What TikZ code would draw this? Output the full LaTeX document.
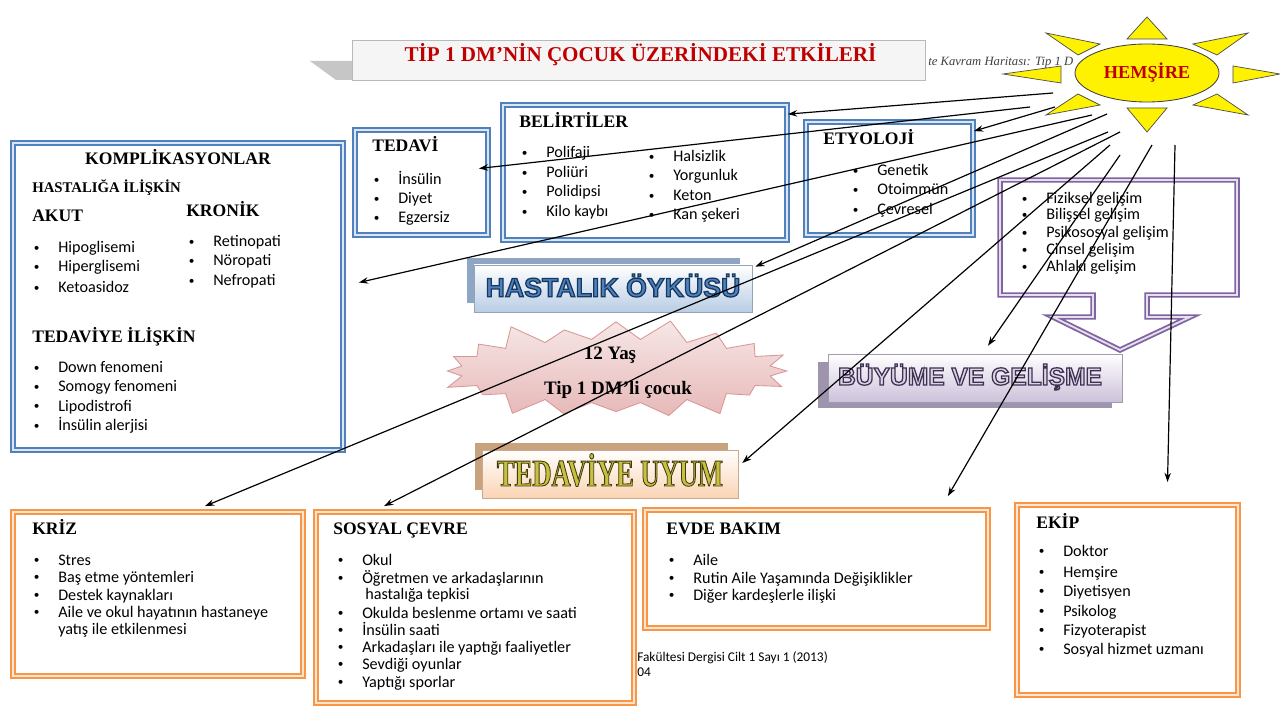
\documentclass[tikz,border=0pt]{standalone}
\usepackage{fontspec}
\setmainfont{Liberation Serif}
\newfontfamily\calfont{Carlito}
\newfontfamily\artsans{Liberation Sans}
\newfontfamily\artserif[FakeStretch=0.7]{Liberation Serif}
\usetikzlibrary{arrows.meta,positioning,calc,fit,shapes.geometric,shapes.symbols}

\definecolor{boxblue}{HTML}{4F81BD}
\definecolor{boxorange}{HTML}{F79646}
\definecolor{boxpurple}{HTML}{8064A2}
\definecolor{titlered}{HTML}{C00000}
\definecolor{starpink}{HTML}{E6B9B8}
\definecolor{starline}{HTML}{D99694}
\definecolor{hastblue}{HTML}{B9CDE5}
\definecolor{hastback}{HTML}{8EA5C4}
\definecolor{buyback}{HTML}{9E94AE}
\definecolor{buylav}{HTML}{CCC1DA}
\definecolor{uyumback}{HTML}{C9A27E}
\definecolor{uyumpeach}{HTML}{FBD4B4}
\definecolor{uyumtext}{HTML}{C8C040}

% outlined (WordArt-like) text: fill colour, stroke width, stroke rgb, text
\newcommand{\outl}[4]{{\color{#1}\special{pdf:literal direct 2 Tr #2 w #3 RG}#4\special{pdf:literal direct 0 Tr}}}
\newcommand{\dotmark}{\raisebox{0.12em}{\fontsize{8}{8}\selectfont\textbullet}}

\tikzstyle{bluebox}=[draw=boxblue, line width=1.3pt, double=boxblue!20, double distance=1.3pt, fill=white, inner sep=0pt]
\tikzstyle{orangebox}=[draw=boxorange, line width=1.3pt, double=boxorange!25, double distance=1.3pt, fill=white, inner sep=0pt]
\tikzstyle{purplebox}=[draw=boxpurple, line width=1.3pt, double=boxpurple!20, double distance=1.3pt, fill=white]
\tikzstyle{ray}=[fill=yellow, draw=black!70, line width=0.5pt]

\begin{document}
\begin{tikzpicture}[x=0.025cm, y=-0.025cm,
  >={Stealth[length=2.3mm,width=1.6mm]},
  head/.style={anchor=base west, inner sep=0pt, font=\bfseries\fontsize{12.5}{14}\selectfont},
  itm/.style={anchor=base west, inner sep=0pt, font=\calfont\fontsize{11.5}{13}\selectfont,
              execute at begin node={\llap{\dotmark\hspace{0.47cm}}}},
  itmc/.style={anchor=base west, inner sep=0pt, font=\calfont\fontsize{11.5}{13}\selectfont},
  arr/.style={->, line width=0.85pt}]
\fill[white] (0,0) rectangle (1280,720);
\useasboundingbox (0,0) rectangle (1280,720);

% title banner
\fill[gray!45] (310,61) -- (352,61) -- (352,80) -- (336,80) -- cycle;
\node[fit={(352,40)(925,80)}, inner sep=0pt, fill=gray!8, draw=gray!55] (tit) {};
\node[font=\bfseries\fontsize{15}{15}\selectfont, text=titlered] (titT) at ($(tit.center)+(2,-5)$)
  {TİP 1 DM’NİN ÇOCUK ÜZERİNDEKİ ETKİLERİ};

% sun
\foreach \p/\q/\r in {{(1127,39)}/{(1147,17)}/{(1167,39)}, {(1127,108)}/{(1147,132)}/{(1167,108)},
    {(1061,66)}/{(1003,74)}/{(1061,83)}, {(1233,66)}/{(1280,74)}/{(1233,83)},
    {(1046,33)}/{(1100,44)}/{(1078,55)}, {(1248,33)}/{(1193,44)}/{(1217,55)},
    {(1046,115)}/{(1078,94)}/{(1100,105)}, {(1248,115)}/{(1217,94)}/{(1193,105)}}
  \filldraw[ray] \p -- \q -- \r -- cycle;
\node[anchor=base west, inner sep=0pt, font=\itshape\fontsize{9}{10}\selectfont, text=black!75] (kav)
  at (928,66) {te Kavram Haritası: Tip 1 D};
\node[ellipse, draw=black!75, fill=yellow, line width=0.6pt, minimum width=3.6cm, minimum height=1.45cm,
  inner sep=0pt, font=\bfseries\fontsize{13}{13}\selectfont, text=titlered] (sun) at (1147,73) {HEMŞİRE};

% blue boxes
\node[bluebox, fit={(13,143)(343,450)}] (komp) {};
\node[bluebox, fit={(355,130)(488,235)}] (ted) {};
\node[bluebox, fit={(503,105)(787,240)}] (bel) {};
\node[bluebox, fit={(806,122)(973,235)}] (ety) {};

\node[head, anchor=base] (kompT) at (178,165) {KOMPLİKASYONLAR};
\node[head, font=\bfseries\fontsize{10.5}{12}\selectfont] (kompH) at (32,193) {HASTALIĞA İLİŞKİN};
\node[head] (kompA) at (32,222) {AKUT};
\node[head] (kompK) at (186,217) {KRONİK};
\foreach \t/\y [count=\i] in {Hipoglisemi/253, Hiperglisemi/272, Ketoasidoz/293}
  \node[itm] (akut\i) at (58,\y) {\t};
\foreach \t/\y [count=\i] in {Retinopati/247, Nöropati/266, Nefropati/286}
  \node[itm] (kron\i) at (213,\y) {\t};
\node[head] (kompD) at (32,343) {TEDAVİYE İLİŞKİN};
\foreach \t/\y [count=\i] in {Down fenomeni/373, Somogy fenomeni/392, Lipodistrofi/411, İnsülin alerjisi/431}
  \node[itm] (tdv\i) at (58,\y) {\t};

\node[head] (tedT) at (372,152) {TEDAVİ};
\foreach \t/\y [count=\i] in {İnsülin/185, Diyet/204, Egzersiz/223}
  \node[itm] (ted\i) at (398,\y) {\t};

\node[head] (belT) at (519,128) {BELİRTİLER};
\foreach \t/\y [count=\i] in {Polifaji/158, Poliüri/178, Polidipsi/197, Kilo kaybı/217}
  \node[itm] (belA\i) at (546,\y) {\t};
\foreach \t/\y [count=\i] in {Halsizlik/162, Yorgunluk/181, Keton/201, Kan şekeri/220}
  \node[itm] (belB\i) at (673,\y) {\t};

\node[head] (etyT) at (823,145) {ETYOLOJİ};
\foreach \t/\y [count=\i] in {Genetik/176, Otoimmün/195, Çevresel/215}
  \node[itm] (ety\i) at (877,\y) {\t};

% growth callout
\draw[purplebox] (1000,180) -- (1237,180) -- (1237,295) -- (1147,295) -- (1147,317) -- (1190,317)
  -- (1120,350) -- (1053,317) -- (1093,317) -- (1093,295) -- (1000,295) -- cycle;
\foreach \t/\y [count=\i] in {Fiziksel gelişim/204, Bilişsel gelişim/220, Psikososyal gelişim/238,
    Cinsel gelişim/255, Ahlaki gelişim/272}
  \node[itm] (gel\i) at (1046,\y) {\t};

% word art labels
\fill[hastback] (467,258) rectangle (740,303);
\node[fit={(474,265)(752,312)}, inner sep=0pt, top color=white, bottom color=hastblue, draw=hastblue!80!black] (hf) {};
\node[font=\artsans\bfseries\fontsize{19}{19}\selectfont] (hastT) at ($(hf.center)+(0,-3)$)
  {\outl{boxblue}{0.9}{0.09 0.22 0.37}{HASTALIK ÖYKÜSÜ}};

\fill[buyback] (818,362) rectangle (1112,408);
\node[fit={(828,354)(1122,402)}, inner sep=0pt, top color=white, bottom color=buylav, draw=buylav!80!black] (bf) {};
\node[font=\artsans\bfseries\fontsize{17.5}{18}\selectfont] (buyT) at ($(bf.center)+(-5,-1)$)
  {\outl{buylav!70}{0.9}{0.25 0.19 0.32}{BÜYÜME VE GELİŞME}};

\fill[uyumback] (475,443) rectangle (728,490);
\node[fit={(482,450)(738,498)}, inner sep=0pt, top color=white, bottom color=uyumpeach, draw=uyumpeach!80!black] (uf) {};
\node[font=\artserif\bfseries\fontsize{27}{27}\selectfont] (uyumT) at ($(uf.center)+(0,-4)$)
  {\outl{uyumtext}{0.6}{0.25 0.24 0.05}{TEDAVİYE UYUM}};

% centre
\node[starburst, starburst points=20, starburst point height=0.6cm, minimum width=9cm, minimum height=2.8cm,
  top color=starpink!35, bottom color=starpink, draw=starline, line width=0.6pt] (star) at (616,371) {};
\node[font=\bfseries\fontsize{13.5}{15}\selectfont] (yas) at (610,355) {12 Yaş};
\node[font=\bfseries\fontsize{13.5}{15}\selectfont] (cocuk) at (618,390) {Tip 1 DM’li çocuk};

% orange boxes
\node[orangebox, fit={(13,512)(303,676)}] (kriz) {};
\node[orangebox, fit={(316,512)(634,703)}] (sos) {};
\node[orangebox, fit={(645,510)(988,628)}] (evde) {};
\node[orangebox, fit={(1017,505)(1238,695)}] (ekip) {};

\node[head] (krizT) at (32,534) {KRİZ};
\foreach \t/\y [count=\i] in {Stres/565, Baş etme yöntemleri/582, Destek kaynakları/600,
    Aile ve okul hayatının hastaneye/617}
  \node[itm] (kriz\i) at (58,\y) {\t};
\node[itmc] (kriz5) at (58,634) {yatış ile etkilenmesi};

\node[head] (sosT) at (333,534) {SOSYAL ÇEVRE};
\foreach \t/\y [count=\i] in {Okul/565, Öğretmen ve arkadaşlarının/583, Okulda beslenme ortamı ve saati/618,
    İnsülin saati/635, Arkadaşları ile yaptığı faaliyetler/652, Sevdiği oyunlar/669, Yaptığı sporlar/687}
  \node[itm] (sos\i) at (362,\y) {\t};
\node[itmc] (sosC) at (365,599) {hastalığa tepkisi};

\node[head] (evdeT) at (666,534) {EVDE BAKIM};
\foreach \t/\y [count=\i] in {Aile/565, Rutin Aile Yaşamında Değişiklikler/583, Diğer kardeşlerle ilişki/600}
  \node[itm] (evde\i) at (693,\y) {\t};

\node[head] (ekipT) at (1036,528) {EKİP};
\foreach \t/\y [count=\i] in {Doktor/556, Hemşire/577, Diyetisyen/596, Psikolog/616, Fizyoterapist/635,
    Sosyal hizmet uzmanı/654}
  \node[itm] (ekip\i) at (1063,\y) {\t};

\node[itmc, font=\calfont\fontsize{9.5}{11}\selectfont] (ft1) at (637,661) {Fakültesi Dergisi Cilt 1 Sayı 1 (2013)};
\node[itmc, font=\calfont\fontsize{9.5}{11}\selectfont] (ft2) at (637,676) {04};

% arrows from the nurse
\draw[arr] ($(sun.center)+(-94,20)$) -- ($(bel.north east)+(0,10)$);
\draw[arr] ($(sun.center)+(-117,34)$) -- ($(ted.east)+(-10,-14)$);
\draw[arr] ($(sun.center)+(-92,34)$) -- ($(ety.north east)+(0,10)$);
\draw[arr] ($(sun.center)+(-55,42)$) -- ($(komp.east)+(15,-14)$);
\draw[arr] ($(sun.center)+(-40,41)$) -- ($(hf.north east)+(3,2)$);
\draw[arr] ($(sun.center)+(-39,59)$) -- ($(kriz.north)+(47,-5)$);
\draw[arr] ($(sun.center)+(-27,59)$) -- ($(sos.north west)+(69,-5)$);
\draw[arr] ($(sun.center)+(-37,72)$) -- ($(uf.east)+(4,-11)$);
\draw[arr] ($(sun.center)+(-27,82)$) -- ($(bf.north)+(13,-8)$);
\draw[arr] ($(sun.center)+(5,72)$) -- ($(evde.north east)+(-41,-13)$);
\draw[arr] ($(sun.center)+(28,72)$) -- ($(ekip.north)+(40,-22)$);
\end{tikzpicture}
\end{document}
